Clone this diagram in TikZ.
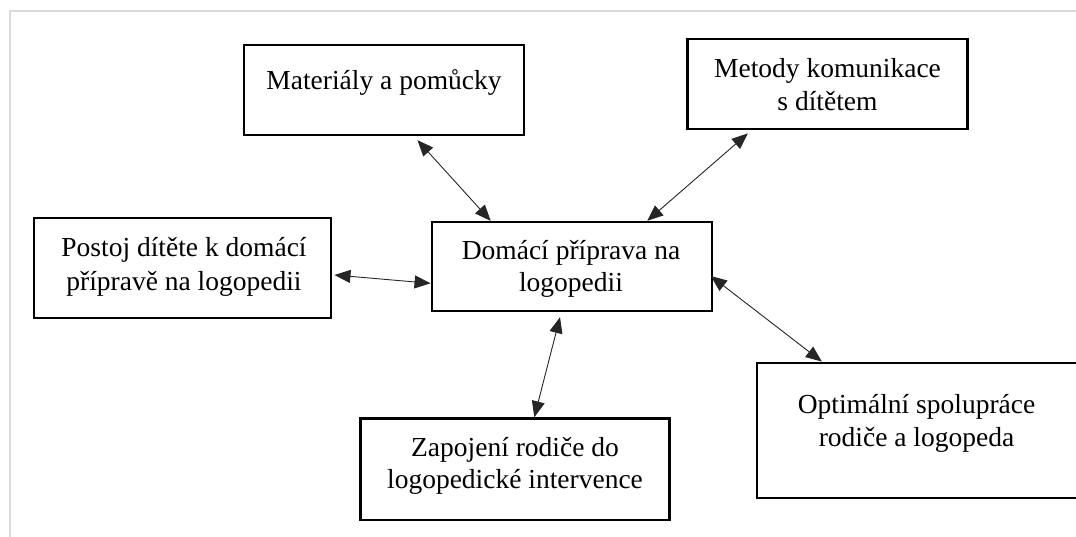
\documentclass[tikz,border=0pt]{standalone}
\usepackage{fontspec}
\setmainfont{Liberation Serif}
\usetikzlibrary{arrows.meta,calc}
\definecolor{framegray}{RGB}{218,218,218}
\begin{document}
\begin{tikzpicture}[x=1pt,y=-1pt,
  box/.style={draw=black, line width=2.3pt, fill=white, inner sep=0pt},
  txt/.style={anchor=base, inner sep=0pt, font=\fontsize{27.5pt}{33pt}\selectfont},
  link/.style={draw=black!85, line width=0.9pt, {Triangle[length=16pt,width=13pt]}-{Triangle[length=16pt,width=13pt]}}]
\useasboundingbox (0,0) rectangle (1076,536);
\clip (0,0) rectangle (1076,536);
\fill[white] (0,0) rectangle (1076,536);
% page frame
\draw[framegray, line width=2pt] (9.5,540) -- (9.5,11) -- (1080,11);
% boxes
\node[box, minimum width=280.3pt, minimum height=90pt] (mat) at (383.95,90) {};
\node[box, minimum width=280pt, minimum height=90pt] (met) at (827.5,84.3) {};
\node[box, minimum width=297.6pt, minimum height=99.4pt] (pos) at (182.5,268) {};
\node[box, minimum width=280pt, minimum height=89pt] (dom) at (571.7,266.5) {};
\node[box, minimum width=309pt, minimum height=101.7pt] (zap) at (515,469.2) {};
\node[box, minimum width=323.3pt, minimum height=135.6pt] (opt) at (918.4,430.5) {};
% texts
\node[txt] (matA) at (384,89.3) {Materiály a pomůcky};
\node[txt] (metA) at (827.5,77.3) {Metody komunikace};
\node[txt] (metB) at (827.5,110) {s dítětem};
\node[txt] (posA) at (184,256.7) {Postoj dítěte k domácí};
\node[txt] (posB) at (184,290) {přípravě na logopedii};
\node[txt] (domA) at (571,259.3) {Domácí příprava na};
\node[txt] (domB) at (571,291.7) {logopedii};
\node[txt] (zapA) at (515,456) {Zapojení rodiče do};
\node[txt] (zapB) at (515,488.7) {logopedické intervence};
\node[txt] (optA) at (916.5,413.3) {Optimální spolupráce};
\node[txt] (optB) at (916.5,446) {rodiče a logopeda};
% connectors
\draw[link] ([xshift=33.5pt,yshift=-4pt]mat.south) -- ([xshift=-81pt]dom.north);
\draw[link] ([xshift=-79.7pt,yshift=-3pt]met.south) -- ([xshift=75.5pt]dom.north);
\draw[link] ([xshift=2pt,yshift=-7pt]pos.east) -- ([yshift=-16.8pt]dom.west);
\draw[link] ([xshift=-11.7pt,yshift=-5pt]dom.south) -- ([xshift=19.3pt]zap.north);
\draw[link] ([xshift=-2pt,yshift=-9.5pt]dom.east) -- ([xshift=-96.6pt]opt.north);
\end{tikzpicture}
\end{document}
